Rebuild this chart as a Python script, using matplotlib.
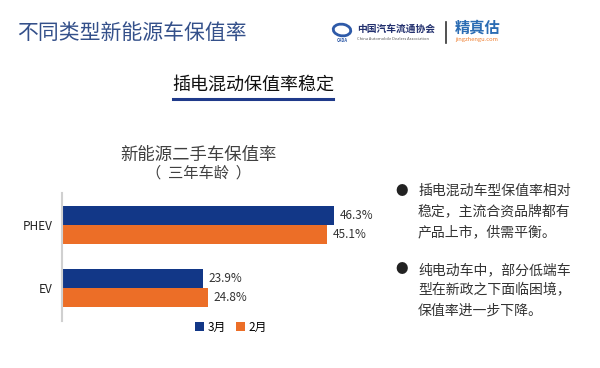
import matplotlib
matplotlib.use('Agg')
from matplotlib import pyplot as plt
from matplotlib.patches import Ellipse
import numpy as np

plt.rcParams['font.family'] = ['Noto Sans CJK SC', 'DejaVu Sans']

# data
categories = ['EV', 'PHEV']
march = [23.9, 46.3]
feb = [24.8, 45.1]
series_names = ['3月', '2月']

blue = '#123787'
orange = '#ec6e27'

fig = plt.figure(figsize=(6, 3.68), dpi=100)

# header
fig.text(17 / 600, 1 - 33 / 368, '不同类型新能源车保值率', fontsize=15,
         color='#34508a', va='center', ha='left')
fig.text(253 / 600, 1 - 85 / 368, '插电混动保值率稳定', fontsize=13,
         color='#111111', va='center', ha='center')
fig.add_artist(plt.Line2D([173 / 600, 333 / 600], [1 - 99 / 368] * 2,
                          color='#1f3a8a', linewidth=2.2))

# logo area
fig.add_artist(Ellipse((342 / 600, 1 - 30 / 368), 17 / 600, 12 / 368,
                       angle=25, facecolor='none', edgecolor='#2e5aa8', linewidth=2))
fig.text(342 / 600, 1 - 41 / 368, 'CADA', fontsize=3, color='#2e5aa8',
         ha='center', va='center', fontweight='bold')
fig.text(357 / 600, 1 - 29 / 368, '中国汽车流通协会', fontsize=7,
         color='#22306e', va='center', ha='left', fontweight='bold')
fig.text(357 / 600, 1 - 38.5 / 368, 'China Automobile Dealers Association',
         fontsize=2.9, color='#555555', va='center', ha='left')
fig.add_artist(plt.Line2D([446 / 600] * 2, [1 - 22 / 368, 1 - 43 / 368],
                          color='#333333', linewidth=1.2))
fig.text(455 / 600, 1 - 28 / 368, '精真估', fontsize=11, color='#2b6cb3',
         va='center', ha='left', fontweight='bold')
fig.text(455 / 600, 1 - 40 / 368, 'jingzhengu.com', fontsize=4.2,
         color='#ef7d2d', va='center', ha='left')

# chart titles
fig.text(198 / 600, 1 - 155 / 368, '新能源二手车保值率', fontsize=12.5,
         color='#404040', ha='center', va='center')
fig.text(198 / 600, 1 - 173 / 368, '（  三年车龄  ）', fontsize=11,
         color='#404040', ha='center', va='center')

# bar chart
ax = fig.add_axes([62 / 600, 47 / 368, 294 / 600, 128 / 368])
y = np.arange(len(categories))
h = 0.3
ax.barh(y + h / 2, march, height=h, color=blue, label=series_names[0])
ax.barh(y - h / 2, feb, height=h, color=orange, label=series_names[1])
for yi, v in zip(y + h / 2, march):
    ax.text(v + 1, yi, f'{v:.1f}%', va='center', ha='left', fontsize=8.5, color='#333333')
for yi, v in zip(y - h / 2, feb):
    ax.text(v + 1, yi, f'{v:.1f}%', va='center', ha='left', fontsize=8.5, color='#333333')

ax.set_xlim(0, 50)
ax.set_ylim(-0.52, 1.51)
ax.set_yticks(y)
ax.set_yticklabels(categories, fontsize=8.5, color='#222222')
ax.set_xticks([])
ax.tick_params(axis='y', length=0, pad=7)
for s in ['top', 'right', 'bottom']:
    ax.spines[s].set_visible(False)
ax.spines['left'].set_color('#d0d0d0')
ax.spines['left'].set_linewidth(1.5)
ax.patch.set_alpha(0)

fig.legend(loc='center', bbox_to_anchor=(231 / 600, 1 - 327 / 368), ncol=2,
           frameon=False, fontsize=8.5, handlelength=0.8, handleheight=0.8,
           columnspacing=0.8, handletextpad=0.3)

# bullet text
bullets = [
    ['插电混动车型保值率相对', '稳定，主流合资品牌都有', '产品上市，供需平衡。'],
    ['纯电动车中，部分低端车', '型在新政之下面临困境，', '保值率进一步下降。'],
]
starts = [191, 270]
for lines, y0 in zip(bullets, starts):
    fig.text(402 / 600, 1 - y0 / 368, '●', fontsize=9, color='#222222',
             ha='center', va='center')
    for i, line in enumerate(lines):
        fig.text(418 / 600, 1 - (y0 + i * 20.5) / 368, line, fontsize=10,
                 color='#333333', ha='left', va='center')

fig.savefig('out.png', dpi=100)
